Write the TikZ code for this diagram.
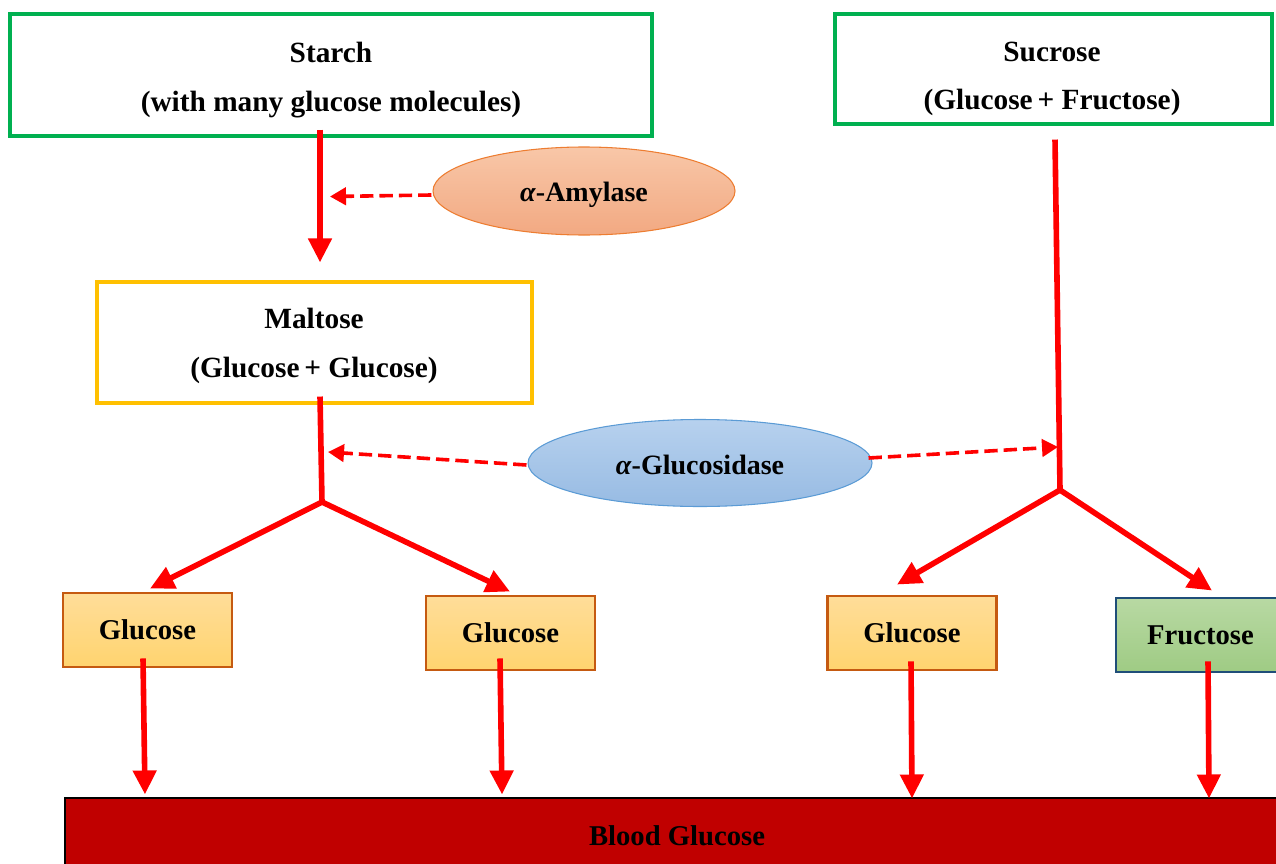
\documentclass[tikz,border=0pt]{standalone}
\usepackage{fontspec}
\setmainfont{Liberation Serif}
\usetikzlibrary{arrows.meta,shapes.geometric,calc}
\definecolor{boxgreen}{HTML}{00B050}
\definecolor{boxgold}{HTML}{FFC000}
\definecolor{glucborder}{HTML}{C55A11}
\definecolor{gluctop}{HTML}{FFDD99}
\definecolor{glucbot}{HTML}{FFD46F}
\definecolor{frutop}{HTML}{B8D9A3}
\definecolor{frubot}{HTML}{9FCB84}
\definecolor{fruborder}{HTML}{1F4E79}
\definecolor{amytop}{HTML}{F8C7A8}
\definecolor{amybot}{HTML}{F2A982}
\definecolor{amyborder}{HTML}{ED7D31}
\definecolor{glstop}{HTML}{B7D1EE}
\definecolor{glsbot}{HTML}{97BBE3}
\definecolor{glsborder}{HTML}{5B9BD5}
\definecolor{bloodred}{HTML}{C00000}
\definecolor{arrred}{HTML}{FF0000}
\begin{document}
\begin{tikzpicture}[x=0.75pt,y=-0.75pt,
  txt/.style={font=\bfseries\fontsize{22}{36.5}\selectfont, align=center},
  gbox/.style={draw=glucborder, line width=2.2pt, top color=gluctop, bottom color=glucbot,
    minimum width=126.75pt, minimum height=55.5pt, inner sep=0pt,
    font=\bfseries\fontsize{21.5}{24}\selectfont},
  fbox/.style={draw=fruborder, line width=2.2pt, top color=frutop, bottom color=frubot,
    minimum width=126.75pt, minimum height=55.5pt, inner sep=0pt,
    font=\bfseries\fontsize{21.5}{24}\selectfont},
  enzyme/.style={ellipse, inner sep=0pt, line width=0.8pt, text depth=4.5pt,
    font=\bfseries\fontsize{21}{24}\selectfont},
  mainarrow/.style={draw=arrred, line width=4.2pt, -{Triangle[length=18pt,width=17pt]}},
  mainline/.style={draw=arrred, line width=4.2pt},
  dasharrow/.style={draw=arrred, line width=2.7pt, dash pattern=on 10pt off 4.5pt,
    -{Triangle[length=12pt,width=13pt]}}
]
\useasboundingbox (0,0) rectangle (1276,863);
\clip (0,0) rectangle (1276,863);

% top boxes
\node[draw=boxgreen, line width=2.3pt, minimum width=481.5pt, minimum height=91.5pt, inner sep=0pt]
  (starch) at (331,75) {};
\node[txt] (starchtxt) at (331,80) {Starch\\(with many glucose molecules)};

\node[txt] (sucrosetxt) at (1052,79) {Sucrose\\(Glucose\,+ Fructose)};
\node[draw=boxgreen, line width=2.3pt, minimum width=327.75pt, minimum height=82.5pt, inner sep=0pt]
  (sucrose) at (1053.5,69) {};

\node[draw=boxgold, line width=2.3pt, minimum width=326.25pt, minimum height=90.75pt, inner sep=0pt]
  (maltose) at (314.5,342.5) {};
\node[txt] (maltosetxt) at (314,346) {Maltose\\(Glucose\,+ Glucose)};

% enzymes
\node[enzyme, draw=amyborder, top color=amytop, bottom color=amybot, text height=20pt,
  minimum width=226.5pt, minimum height=66pt] (amy) at (584,191) {\textit{α}-Amylase};
\node[enzyme, draw=glsborder, top color=glstop, bottom color=glsbot, text height=21.5pt,
  minimum width=258pt, minimum height=65.25pt] (gls) at (700,463) {\textit{α}-Glucosidase};

% product boxes
\node[gbox] (g1) at (147.5,630) {Glucose};
\node[gbox] (g2) at (510.5,633) {Glucose};
\node[gbox] (g3) at (912,633) {Glucose};
\node[fbox] (fru) at (1200.5,635) {Fructose};

% blood
\node[draw=black, line width=1.8pt, fill=bloodred, minimum width=918pt, minimum height=57pt,
  inner sep=0pt, font=\bfseries\fontsize{21.5}{24}\selectfont] (blood) at (677,836) {Blood Glucose};

% junctions
\coordinate (jL) at (322,502);
\coordinate (jR) at (1060,490);

% starch -> maltose
\draw[mainarrow] ($(starch.south)+(-11,-8)$) -- ($(maltose.north)+(5.5,-18)$);
\draw[dasharrow] ($(amy.west)+(-1,4)$) -- ($(starch.south)+(-1,59)$);

% maltose split
\draw[mainline] ($(maltose.south)+(5.5,-8)$) -- (jL);
\draw[mainarrow] (jL) -- ($(g1.north)+(2.5,-3)$);
\draw[mainarrow] (jL) -- ($(g2.north)+(-0.5,-3)$);
\draw[dasharrow] ($(gls.west)+(-1,2)$) -- ($(jL)+(6,-50)$);

% sucrose split
\draw[mainline] ($(sucrose.south)+(1.5,14)$) -- (jR);
\draw[mainarrow] (jR) -- ($(g3.north)+(-15,-10)$);
\draw[mainarrow] (jR) -- ($(fru.north)+(11.5,-6)$);
\draw[dasharrow] ($(gls.east)+(-4,-5)$) -- ($(jR)+(-2,-43)$);

% to blood
\draw[mainarrow] ($(g1.south)+(-4.5,-10)$) -- ($(g1.south)+(-2.5,126)$);
\draw[mainarrow] ($(g2.south)+(-10.5,-13)$) -- ($(g2.south)+(-8.5,123)$);
\draw[mainarrow] ($(g3.south)+(-1,-10)$) -- ($(g3.south)+(0,127)$);
\draw[mainarrow] ($(fru.south)+(7.5,-12)$) -- ($(fru.south)+(8.5,125)$);
\end{tikzpicture}
\end{document}
